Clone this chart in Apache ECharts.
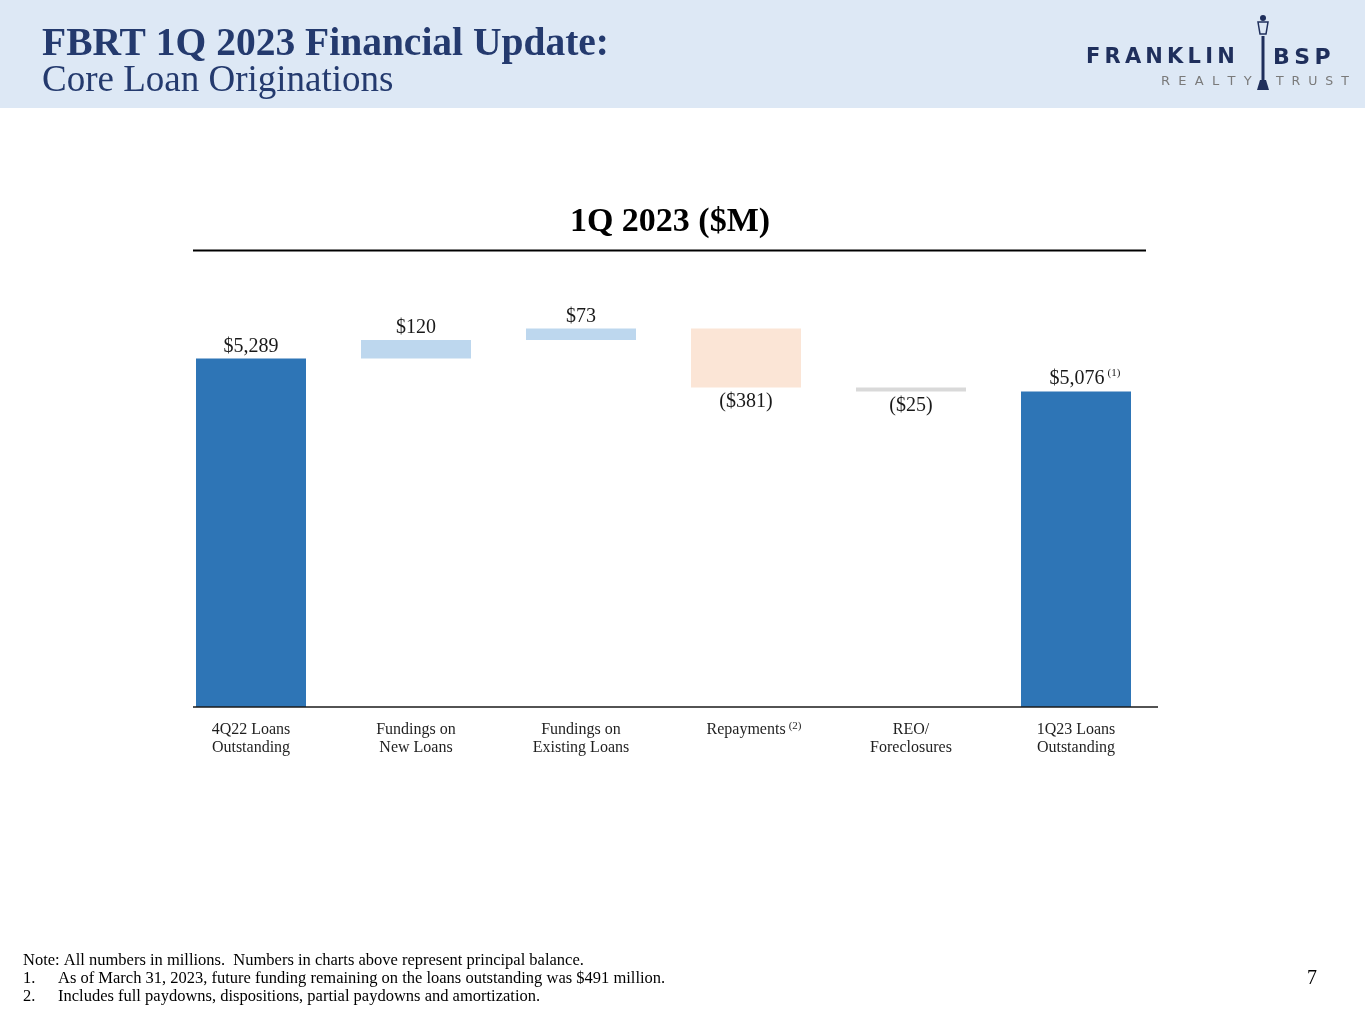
<!DOCTYPE html>
<html>
<head>
<meta charset="utf-8">
<script src="https://cdn.jsdelivr.net/npm/echarts@6/dist/echarts.min.js"></script>
<style>
html,body{margin:0;padding:0;background:#fff;}
#c{width:1365px;height:1024px;}
</style>
</head>
<body>
<div id="c"></div>
<script>
// ---- data ----
var categories = ['4Q22 Loans\nOutstanding', 'Fundings on\nNew Loans', 'Fundings on\nExisting Loans', 'Repayments', 'REO/\nForeclosures', '1Q23 Loans\nOutstanding'];
var changes = [5289, 120, 73, -381, -25, 5076];
var labels = ['$5,289', '$120', '$73', '($381)', '($25)', '$5,076'];
var isTotal = [true, false, false, false, false, true];

// ---- derived waterfall ----
var baseVals = [], barVals = [];
var running = 0;
for (var i = 0; i < changes.length; i++) {
  if (isTotal[i]) {
    baseVals.push('-');
    barVals.push(changes[i]);
    running = changes[i];
  } else if (changes[i] >= 0) {
    baseVals.push(running);
    barVals.push(changes[i]);
    running += changes[i];
  } else {
    running += changes[i];
    baseVals.push(running);
    barVals.push(-changes[i]);
  }
}
var barColors = ['#2E75B6', '#BDD7EE', '#BDD7EE', '#FBE5D6', '#D9D9D9', '#2E75B6'];

var chart = echarts.init(document.getElementById('c'));
var serif = '"Liberation Serif", "DejaVu Serif", serif';
var navy = '#243A6E';

chart.setOption({
  backgroundColor: '#ffffff',
  animation: false,
  grid: { left: 168.5, right: 206.5, top: 301, bottom: 317 },
  xAxis: {
    type: 'category',
    data: categories,
    axisTick: { show: false },
    axisLine: { show: false },
    axisLabel: {
      interval: 0,
      margin: 14,
      fontFamily: serif,
      fontSize: 16,
      lineHeight: 18,
      color: '#1f1f1f',
      formatter: function (v) {
        if (v === 'Repayments') return '{ap|Repayments}{s|(2)}';
        return v;
      },
      rich: {
        ap: { fontFamily: serif, fontSize: 16, color: '#1f1f1f', padding: [0, 0, 0, 16], lineHeight: 18 },
        s: { fontFamily: serif, fontSize: 11, color: '#1f1f1f', verticalAlign: 'top', lineHeight: 10, padding: [0, 0, 0, 3] }
      }
    }
  },
  yAxis: {
    type: 'value',
    min: 3040,
    max: 5660,
    show: false,
    splitLine: { show: false }
  },
  series: [
    {
      type: 'bar',
      stack: 'w',
      data: baseVals,
      barWidth: 110,
      itemStyle: { color: 'transparent' },
      emphasis: { disabled: true },
      silent: true
    },
    {
      type: 'bar',
      stack: 'w',
      data: barVals.map(function (v, i) {
        if (changes[i] < 0 && !isTotal[i]) {
          return { value: v, label: { position: 'bottom', distance: 4 } };
        }
        return v;
      }),
      barWidth: 110,
      itemStyle: {
        color: function (p) { return barColors[p.dataIndex]; }
      },
      emphasis: { disabled: true },
      label: {
        show: true,
        position: 'top',
        distance: 2,
        fontFamily: serif,
        fontSize: 20,
        color: '#1a1a1a',
        formatter: function (p) {
          var t = labels[p.dataIndex];
          if (p.dataIndex === 5) return '{m|' + t + '}{s|(1)}';
          return t;
        },
        rich: {
          m: { fontFamily: serif, fontSize: 20, color: '#1a1a1a', padding: [0, 0, 0, 18], lineHeight: 22 },
          s: { fontFamily: serif, fontSize: 11, color: '#1a1a1a', verticalAlign: 'top', lineHeight: 10, padding: [0, 0, 0, 3] }
        }
      }
    }
  ],
  graphic: [
    { type: 'rect', shape: { x: 0, y: 0, width: 1365, height: 108 }, style: { fill: '#DDE8F5' }, z: -10 },
    { type: 'text', left: 42, top: 25, style: { text: 'FBRT 1Q 2023 Financial Update:', font: 'bold 39.5px ' + serif, fill: navy } },
    { type: 'text', left: 42, top: 63, style: { text: 'Core Loan Originations', font: '37px ' + serif, fill: navy } },
    // logo
    { type: 'text', left: 1086, top: 47, style: { text: 'F\u2009R\u2009A\u2009N\u2009K\u2009L\u2009I\u2009N', font: 'bold 21px "DejaVu Sans", sans-serif', fill: '#1F2F5C' } },
    { type: 'text', left: 1273, top: 47, style: { text: 'B\u2009S\u2009P', font: 'bold 22px "DejaVu Sans", sans-serif', fill: '#1F2F5C' } },
    { type: 'text', left: 1161, top: 75, style: { text: 'R  E  A  L  T  Y', font: '13px "DejaVu Sans", sans-serif', fill: '#7A7A7A' } },
    { type: 'text', left: 1276, top: 75, style: { text: 'T  R  U  S  T', font: '12.5px "DejaVu Sans", sans-serif', fill: '#7A7A7A' } },
    { type: 'rect', shape: { x: 1261.5, y: 36, width: 3, height: 48 }, style: { fill: '#1F2F5C' } },
    { type: 'polygon', shape: { points: [[1258, 22], [1268, 22], [1266, 34], [1260, 34]] }, style: { fill: '#DDE8F5', stroke: '#1F2F5C', lineWidth: 1.5 } },
    { type: 'circle', shape: { cx: 1263, cy: 18, r: 3 }, style: { fill: '#1F2F5C' } },
    { type: 'polygon', shape: { points: [[1257, 90], [1269, 90], [1266, 80], [1260, 80]] }, style: { fill: '#1F2F5C' } },
    // chart title
    { type: 'text', x: 670, y: 222, style: { text: '1Q 2023 ($M)', font: 'bold 34px ' + serif, fill: '#000', align: 'center', verticalAlign: 'middle' } },
    { type: 'line', shape: { x1: 193, y1: 250.5, x2: 1146, y2: 250.5 }, style: { stroke: '#000', lineWidth: 2 } },
    // x baseline
    { type: 'line', shape: { x1: 193, y1: 707, x2: 1158, y2: 707 }, style: { stroke: '#1a1a1a', lineWidth: 1.5 }, z: 10 },
    // notes
    { type: 'text', left: 23, top: 952, style: { text: 'Note: All numbers in millions.  Numbers in charts above represent principal balance.', font: '16.5px ' + serif, fill: '#000' } },
    { type: 'text', left: 23, top: 970, style: { text: '1.', font: '16.5px ' + serif, fill: '#000' } },
    { type: 'text', left: 58, top: 970, style: { text: 'As of March 31, 2023, future funding remaining on the loans outstanding was $491 million.', font: '16.5px ' + serif, fill: '#000' } },
    { type: 'text', left: 23, top: 988, style: { text: '2.', font: '16.5px ' + serif, fill: '#000' } },
    { type: 'text', left: 58, top: 988, style: { text: 'Includes full paydowns, dispositions, partial paydowns and amortization.', font: '16.5px ' + serif, fill: '#000' } },
    { type: 'text', left: 1307, top: 969, style: { text: '7', font: '20px ' + serif, fill: '#000' } }
  ]
});
</script>
</body>
</html>
